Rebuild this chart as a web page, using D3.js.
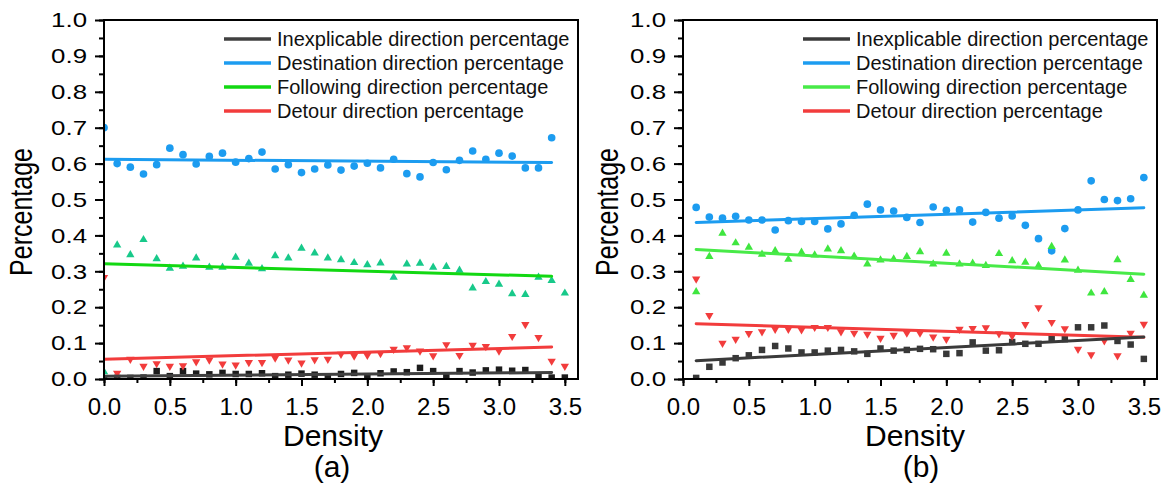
<!DOCTYPE html>
<html>
<head>
<meta charset="utf-8">
<script src="https://cdn.jsdelivr.net/npm/d3@7"></script>
<style>
  html, body { margin: 0; padding: 0; background: #fff; }
  svg { display: block; font-family: "Liberation Sans", Arial, Helvetica, sans-serif; }
</style>
</head>
<body>
<svg id="chart" width="1167" height="485"></svg>
<script>
// ---------- DATA ----------
const seriesNames = ["Inexplicable direction percentage", "Destination direction percentage",
                     "Following direction percentage", "Detour direction percentage"];
const xTicks = [0.0, 0.5, 1.0, 1.5, 2.0, 2.5, 3.0, 3.5];
const yTicks = [0.0, 0.1, 0.2, 0.3, 0.4, 0.5, 0.6, 0.7, 0.8, 0.9, 1.0];

// Panel (a)
const densityA = [0.0,0.1,0.2,0.3,0.4,0.5,0.6,0.7,0.8,0.9,1.0,1.1,1.2,1.3,1.4,1.5,1.6,1.7,
                  1.8,1.9,2.0,2.1,2.2,2.3,2.4,2.5,2.6,2.7,2.8,2.9,3.0,3.1,3.2,3.3,3.4,3.5];
const inexA   = [0.0,0.003,0.003,0.004,0.022,0.008,0.022,0.015,0.013,0.017,0.014,0.014,0.016,0.008,0.012,0.015,0.012,
                 0.006,0.014,0.017,0.005,0.016,0.021,0.019,0.031,0.022,0.005,0.022,0.018,0.024,0.026,0.023,0.025,0.007,0.004,0.004];
const destA   = [0.70,0.60,0.59,0.571,0.597,0.643,0.625,0.599,0.620,0.629,0.604,0.614,0.632,0.585,0.597,0.575,0.585,
                 0.596,0.582,0.593,0.601,0.588,0.612,0.572,0.563,0.603,0.583,0.609,0.635,0.612,0.629,0.621,0.588,0.588,0.672,null];
const followA = [0.02,0.373,0.346,0.388,0.335,0.308,0.314,0.337,0.311,0.311,0.339,0.322,0.307,0.343,0.337,0.364,0.351,
                 0.337,0.332,0.324,0.318,0.323,0.283,0.320,0.322,0.311,0.313,0.303,0.253,0.271,0.264,0.237,0.235,0.283,0.274,0.239];
const detourA = [0.283,0.016,0.055,0.036,0.043,0.036,0.037,0.048,0.053,0.042,0.039,0.046,0.046,0.059,0.053,0.045,0.054,
                 0.055,0.069,0.064,0.066,0.071,0.083,0.087,0.078,0.065,0.096,0.066,0.094,0.091,0.078,0.119,0.152,0.116,0.050,0.036];
// linear fit end points [x0, y0, x1, y1]
const fitInexA   = [0.0, 0.008, 3.4, 0.018];
const fitDestA   = [0.0, 0.612, 3.4, 0.603];
const fitFollowA = [0.0, 0.321, 3.4, 0.286];
const fitDetourA = [0.0, 0.055, 3.4, 0.089];

// Panel (b)
const densityB = [0.1,0.2,0.3,0.4,0.5,0.6,0.7,0.8,0.9,1.0,1.1,1.2,1.3,1.4,1.5,1.6,1.7,
                  1.8,1.9,2.0,2.1,2.2,2.3,2.4,2.5,2.6,2.7,2.8,2.9,3.0,3.1,3.2,3.3,3.4,3.5];
const inexB   = [0.003,0.034,0.046,0.058,0.066,0.081,0.092,0.085,0.074,0.074,0.079,0.081,0.077,0.070,0.085,0.079,
                 0.081,0.084,0.083,0.070,0.072,0.102,0.079,0.080,0.103,0.098,0.098,0.114,0.111,0.144,0.144,0.149,0.106,0.096,0.056];
const destB   = [0.478,0.451,0.448,0.453,0.443,0.443,0.415,0.441,0.439,0.439,0.418,0.432,0.456,0.487,0.471,0.468,
                 0.450,0.436,0.479,0.470,0.471,0.437,0.464,0.448,0.454,0.428,0.391,0.357,0.419,0.471,0.552,0.500,0.497,0.502,0.561];
const followB = [0.243,0.341,0.406,0.379,0.367,0.347,0.357,0.333,0.353,0.345,0.362,0.357,0.342,0.320,0.331,0.334,
                 0.341,0.354,0.320,0.350,0.320,0.322,0.316,0.349,0.329,0.325,0.316,0.369,0.331,0.303,0.239,0.243,0.332,0.277,0.233];
const detourB = [0.279,0.177,0.100,0.111,0.127,0.132,0.139,0.139,0.137,0.144,0.144,0.132,0.128,0.125,0.114,0.122,
                 0.128,0.128,0.117,0.111,0.139,0.141,0.143,0.126,0.120,0.152,0.199,0.158,0.140,0.083,0.068,0.107,0.065,0.128,0.153];
const fitInexB   = [0.1, 0.051, 3.5, 0.117];
const fitDestB   = [0.1, 0.436, 3.5, 0.477];
const fitFollowB = [0.1, 0.361, 3.5, 0.292];
const fitDetourB = [0.1, 0.154, 3.5, 0.116];

// ---------- DRAW ----------
const svg = d3.select("#chart");
const FONT = "'Liberation Sans', Arial, Helvetica, sans-serif";

const panels = [
  { id: "a", label: "(a)", left: 104, right: 578, density: densityA,
    series: [inexA, destA, followA, detourA],
    fits: [fitInexA, fitDestA, fitFollowA, fitDetourA],
    markerColors: ["#1c1c1c", "#1c9cf0", "#18c98a", "#f23c3c"],
    lineColors:   ["#404040", "#1c9cf0", "#12d812", "#f23c3c"],
    titleX: 333, labelX: 332, yTitleX: 32 },
  { id: "b", label: "(b)", left: 683, right: 1157, density: densityB,
    series: [inexB, destB, followB, detourB],
    fits: [fitInexB, fitDestB, fitFollowB, fitDetourB],
    markerColors: ["#383838", "#1c9cf0", "#3fe63f", "#f23c3c"],
    lineColors:   ["#3a3a3a", "#1c9cf0", "#48ea48", "#f23c3c"],
    titleX: 915, labelX: 921, yTitleX: 618 }
];

const plotTop = 20, plotBottom = 379;
const symbols = [
  { type: d3.symbolSquare, size: 42, rot: 0 },
  { type: d3.symbolCircle, size: 46, rot: 0 },
  { type: d3.symbolTriangle, size: 30, rot: 0 },
  { type: d3.symbolTriangle, size: 30, rot: 180 }
];

panels.forEach(p => {
  const x = d3.scaleLinear().domain([0, 3.6]).range([p.left, p.right]);
  const y = d3.scaleLinear().domain([0, 1]).range([plotBottom, plotTop]);
  const g = svg.append("g");

  g.append("clipPath").attr("id", "clip-" + p.id)
    .append("rect").attr("x", p.left).attr("y", plotTop)
    .attr("width", p.right - p.left).attr("height", plotBottom - plotTop);

  const plot = g.append("g").attr("clip-path", `url(#clip-${p.id})`);

  // markers
  p.series.forEach((vals, si) => {
    const sym = symbols[si];
    const pts = p.density.map((d, i) => ({ x: d, y: vals[i] })).filter(d => d.y !== null);
    plot.append("g").selectAll("path").data(pts).join("path")
      .attr("d", d3.symbol().type(sym.type).size(sym.size))
      .attr("transform", d => `translate(${x(d.x)},${y(d.y)}) rotate(${sym.rot})`)
      .attr("fill", p.markerColors[si]);
  });

  // fit lines
  [3, 2, 1, 0].forEach(si => {
    const f = p.fits[si];
    plot.append("line")
      .attr("x1", x(f[0])).attr("y1", y(f[1]))
      .attr("x2", x(f[2])).attr("y2", y(f[3]))
      .attr("stroke", p.lineColors[si]).attr("stroke-width", 3)
      .attr("stroke-linecap", "round");
  });

  // frame (top, right)
  g.append("line").attr("x1", p.left).attr("x2", p.right).attr("y1", plotTop).attr("y2", plotTop)
    .attr("stroke", "#000").attr("stroke-width", 2);
  g.append("line").attr("x1", p.right).attr("x2", p.right).attr("y1", plotTop - 1).attr("y2", plotBottom + 1)
    .attr("stroke", "#000").attr("stroke-width", 2);

  // x axis
  const xMinor = d3.range(0, 3.6, 0.25);
  const xMinorAxis = g.append("g").attr("transform", `translate(0,${plotBottom})`)
    .call(d3.axisBottom(x).tickValues(xMinor).tickSize(4).tickFormat(""));
  xMinorAxis.select(".domain").remove();
  const xAxis = g.append("g").attr("transform", `translate(0,${plotBottom})`)
    .call(d3.axisBottom(x).tickValues(xTicks).tickSize(7).tickFormat(d3.format(".1f")));
  xAxis.select(".domain").attr("d", `M${p.left},0H${p.right}`);
  [xAxis, xMinorAxis].forEach(a => {
    a.selectAll("line").attr("stroke", "#000").attr("stroke-width", 2);
    a.selectAll(".domain").attr("stroke", "#000").attr("stroke-width", 2);
  });
  xAxis.selectAll("text").attr("y", 19).attr("font-size", 24)
    .attr("font-family", FONT).attr("fill", "#000");

  // y axis
  const yMinor = d3.range(0, 1.0001, 0.05);
  const yMinorAxis = g.append("g").attr("transform", `translate(${p.left},0)`)
    .call(d3.axisLeft(y).tickValues(yMinor).tickSize(5).tickFormat(""));
  yMinorAxis.select(".domain").remove();
  const yAxis = g.append("g").attr("transform", `translate(${p.left},0)`)
    .call(d3.axisLeft(y).tickValues(yTicks).tickSize(9).tickFormat(d3.format(".1f")));
  yAxis.select(".domain").attr("d", `M0,${plotBottom + 1}V${plotTop - 1}`);
  [yAxis, yMinorAxis].forEach(a => {
    a.selectAll("line").attr("stroke", "#000").attr("stroke-width", 2);
    a.selectAll(".domain").attr("stroke", "#000").attr("stroke-width", 2);
  });
  yAxis.selectAll("text").attr("x", 0)
    .attr("transform", "translate(-17,0) scale(1.23,1)")
    .attr("font-size", 21).attr("font-family", FONT).attr("fill", "#000");

  // titles
  g.append("text").attr("x", p.titleX).attr("y", 446)
    .attr("text-anchor", "middle").attr("font-size", 30).attr("font-family", FONT)
    .attr("fill", "#000").text("Density");
  g.append("text").attr("x", p.labelX).attr("y", 477)
    .attr("text-anchor", "middle").attr("font-size", 30).attr("font-family", FONT)
    .attr("fill", "#000").text(p.label);
  g.append("text")
    .attr("transform", `translate(${p.yTitleX},212) rotate(-90) scale(1,1.24)`)
    .attr("text-anchor", "middle").attr("font-size", 25).attr("font-family", FONT)
    .attr("fill", "#000").text("Percentage");

  // legend
  const legX = p.right - 354;
  const legRows = [39, 63, 87, 111];
  seriesNames.forEach((name, si) => {
    g.append("line").attr("x1", legX).attr("x2", legX + 47)
      .attr("y1", legRows[si]).attr("y2", legRows[si])
      .attr("stroke", p.lineColors[si]).attr("stroke-width", 3.5);
    g.append("text").attr("x", legX + 53).attr("y", legRows[si] + 7)
      .attr("font-size", 20).attr("font-family", FONT).attr("fill", "#111").text(name);
  });
});
</script>
</body>
</html>
